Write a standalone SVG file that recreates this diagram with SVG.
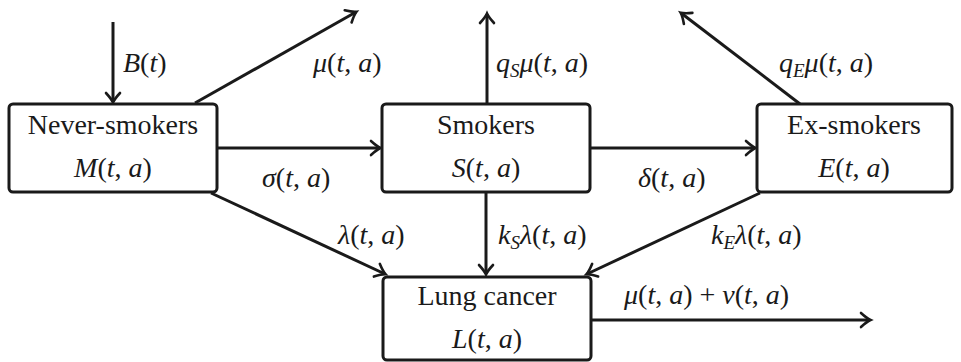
<svg xmlns="http://www.w3.org/2000/svg" width="961" height="362" viewBox="0 0 961 362">
<style>
.box{fill:#fff;stroke:#1a1a1a;stroke-width:3}
.ln{fill:none;stroke:#1a1a1a;stroke-width:3;marker-end:url(#ah)}
text{font-family:"Liberation Serif","Times New Roman",serif;font-size:28px;fill:#1a1a1a}
.c{text-anchor:middle}
.i{font-style:italic}
.sub{font-size:19px;font-style:italic}
</style>
<defs>
<marker id="ah" markerUnits="userSpaceOnUse" markerWidth="20" markerHeight="20" viewBox="-12 -10 14 20" refX="0" refY="0" orient="auto">
<path d="M -9 -7 Q -3 -1.5 0.5 0 Q -3 1.5 -9 7" fill="none" stroke="#1a1a1a" stroke-width="2.6" stroke-linecap="round"/>
</marker>
</defs>
<g id="connectors">
<line class="ln" x1="113" y1="22" x2="113" y2="102"/>
<line class="ln" x1="195" y1="103" x2="356" y2="12"/>
<line class="ln" x1="217" y1="148" x2="380" y2="148"/>
<line class="ln" x1="487" y1="104" x2="487" y2="14"/>
<line class="ln" x1="590" y1="148" x2="755" y2="148"/>
<line class="ln" x1="800" y1="104" x2="681" y2="13"/>
<line class="ln" x1="211" y1="193" x2="385" y2="274"/>
<line class="ln" x1="486" y1="192" x2="486" y2="274"/>
<line class="ln" x1="760" y1="193" x2="587" y2="274"/>
<line class="ln" x1="590" y1="320" x2="870" y2="320"/>
</g>
<g id="labels">
<text x="123" y="72"><tspan class="i">B</tspan>(<tspan class="i">t</tspan>)</text>
<text x="313" y="72"><tspan class="i">μ</tspan>(<tspan class="i">t</tspan>, <tspan class="i">a</tspan>)</text>
<text x="262" y="187"><tspan class="i">σ</tspan>(<tspan class="i">t</tspan>, <tspan class="i">a</tspan>)</text>
<text x="496" y="72"><tspan class="i">q</tspan><tspan class="sub" dy="5">S</tspan><tspan class="i" dy="-5">μ</tspan>(<tspan class="i">t</tspan>, <tspan class="i">a</tspan>)</text>
<text x="779" y="72"><tspan class="i">q</tspan><tspan class="sub" dy="5">E</tspan><tspan class="i" dy="-5">μ</tspan>(<tspan class="i">t</tspan>, <tspan class="i">a</tspan>)</text>
<text x="638" y="187"><tspan class="i">δ</tspan>(<tspan class="i">t</tspan>, <tspan class="i">a</tspan>)</text>
<text x="338" y="244"><tspan class="i">λ</tspan>(<tspan class="i">t</tspan>, <tspan class="i">a</tspan>)</text>
<text x="498" y="244"><tspan class="i">k</tspan><tspan class="sub" dy="5">S</tspan><tspan class="i" dy="-5">λ</tspan>(<tspan class="i">t</tspan>, <tspan class="i">a</tspan>)</text>
<text x="711" y="244"><tspan class="i">k</tspan><tspan class="sub" dy="5">E</tspan><tspan class="i" dy="-5">λ</tspan>(<tspan class="i">t</tspan>, <tspan class="i">a</tspan>)</text>
<text x="624" y="304"><tspan class="i">μ</tspan>(<tspan class="i">t</tspan>, <tspan class="i">a</tspan>) + <tspan class="i">ν</tspan>(<tspan class="i">t</tspan>, <tspan class="i">a</tspan>)</text>
</g>
<g id="never-smokers">
<rect class="box" x="9" y="104" width="208" height="88" rx="4"/>
<text class="c" x="113" y="134">Never-smokers</text>
<text class="c" x="113" y="177"><tspan class="i">M</tspan>(<tspan class="i">t</tspan>, <tspan class="i">a</tspan>)</text>
</g>
<g id="smokers">
<rect class="box" x="382" y="104" width="208" height="88" rx="4"/>
<text class="c" x="486" y="134">Smokers</text>
<text class="c" x="486" y="177"><tspan class="i">S</tspan>(<tspan class="i">t</tspan>, <tspan class="i">a</tspan>)</text>
</g>
<g id="ex-smokers">
<rect class="box" x="757" y="104" width="195" height="88" rx="4"/>
<text class="c" x="854" y="134">Ex-smokers</text>
<text class="c" x="854" y="177"><tspan class="i">E</tspan>(<tspan class="i">t</tspan>, <tspan class="i">a</tspan>)</text>
</g>
<g id="lung-cancer">
<rect class="box" x="383" y="277" width="208" height="83" rx="4"/>
<text class="c" x="487" y="305">Lung cancer</text>
<text class="c" x="487" y="348"><tspan class="i">L</tspan>(<tspan class="i">t</tspan>, <tspan class="i">a</tspan>)</text>
</g>
</svg>
